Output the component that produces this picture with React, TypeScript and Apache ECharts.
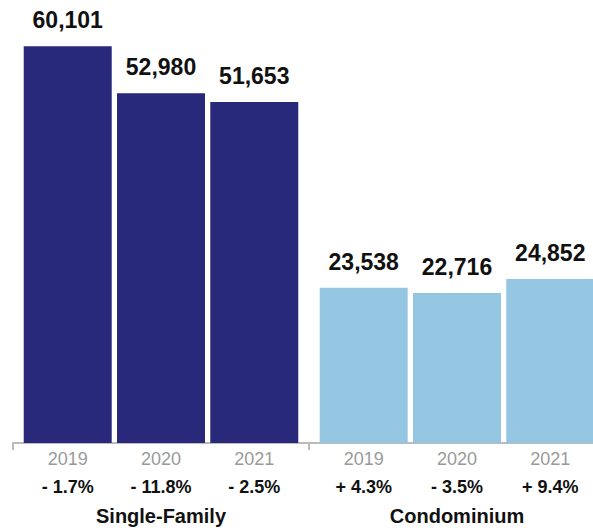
import React, { useEffect, useRef } from "react";
import * as echarts from "echarts";

const groups = ["Single-Family", "Condominium"];
const years = ["2019", "2020", "2021"];
const singleFamily = [60101, 52980, 51653];
const condominium = [23538, 22716, 24852];
const singleFamilyChange = ["- 1.7%", "- 11.8%", "- 2.5%"];
const condominiumChange = ["+ 4.3%", "- 3.5%", "+ 9.4%"];

const NAVY = "#29297b";
const LIGHT = "#94c6e2";
const FONT = "'Liberation Sans', Arial, Helvetica, sans-serif";

export default function App() {
  const ref = useRef<HTMLDivElement>(null);

  useEffect(() => {
    if (!ref.current) return;
    const chart = echarts.init(ref.current, undefined, { renderer: "svg" });
    const values = [singleFamily, condominium];
    const changes = [singleFamilyChange, condominiumChange];
    const colors = [NAVY, LIGHT];

    const series: any[] = [];
    years.forEach((yr, i) => {
      series.push({
        type: "bar",
        name: yr,
        stack: "s" + i,
        barWidth: 88,
        barGap: "6%",
        silent: true,
        data: values.map((v, g) => ({ value: v[i], itemStyle: { color: colors[g] } })),
        label: {
          show: true,
          position: "bottom",
          distance: 5,
          formatter: (p: any) => `{y|${yr}}\n{p|${changes[p.dataIndex][i]}}`,
          rich: {
            y: { fontFamily: FONT, fontSize: 18, color: "#9a9a9a", lineHeight: 22 },
            p: { fontFamily: FONT, fontSize: 18, fontWeight: "bold", color: "#111", lineHeight: 34 },
          },
        },
      });
      series.push({
        type: "bar",
        stack: "s" + i,
        barWidth: 88,
        barGap: "6%",
        silent: true,
        data: values.map(() => 0),
        itemStyle: { color: "transparent" },
        label: {
          show: true,
          position: "top",
          distance: 15,
          fontFamily: FONT,
          fontSize: 23,
          fontWeight: "bold",
          color: "#111",
          lineHeight: 22,
          formatter: (p: any) => values[p.dataIndex][i].toLocaleString("en-US"),
        },
      });
    });

    chart.setOption({
      animation: false,
      textStyle: { fontFamily: FONT },
      grid: {
        left: 13,
        top: 14,
        width: 592,
        height: 429,
        containLabel: false,
        outerBoundsMode: "none",
      },
      xAxis: {
        type: "category",
        data: groups,
        axisLine: { show: true, lineStyle: { color: "#bbbbbb", width: 2 } },
        axisTick: { show: true, length: 7, lineStyle: { color: "#bbbbbb", width: 2 } },
        axisLabel: {
          margin: 63,
          fontFamily: FONT,
          fontSize: 20,
          fontWeight: "bold",
          color: "#111",
          lineHeight: 20,
        },
      },
      yAxis: {
        type: "value",
        min: 0,
        max: 65000,
        show: false,
        splitLine: { show: false },
      },
      series,
    });

    return () => chart.dispose();
  }, []);

  return (
    <div
      ref={ref}
      style={{ position: "absolute", left: 0, top: 0, width: 593, height: 530 }}
    />
  );
}
